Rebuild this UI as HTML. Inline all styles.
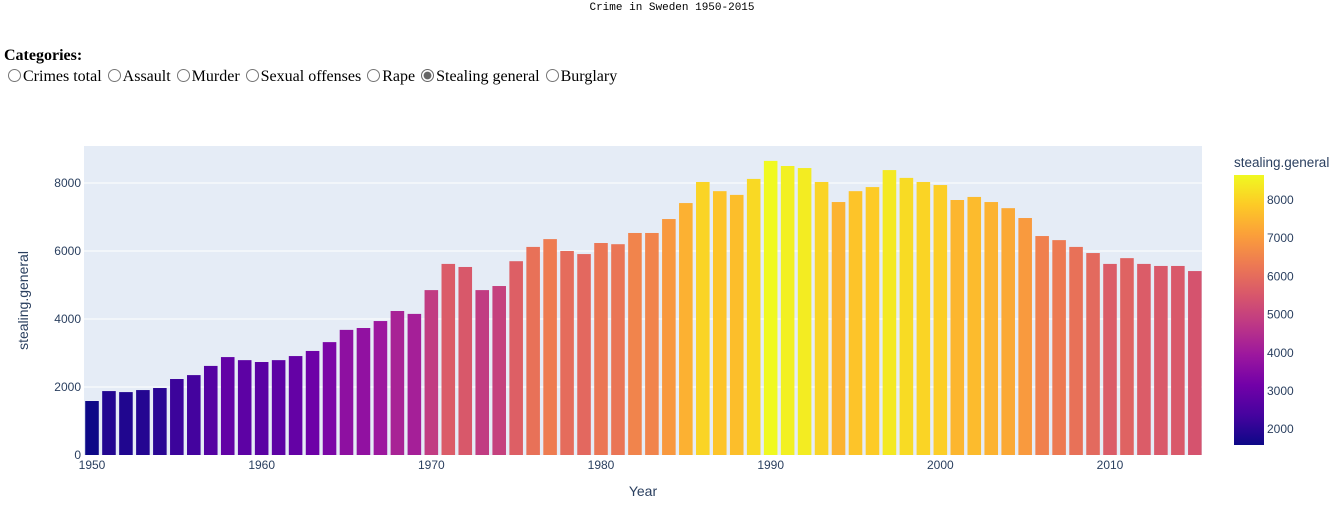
<!DOCTYPE html>
<html><head><meta charset="utf-8"><style>
body{margin:0;width:1344px;height:510px;background:#fff;overflow:hidden;position:relative;font-family:"Liberation Serif",serif}
#title{position:absolute;top:2px;left:0;width:1344px;text-align:center;font-family:"Liberation Mono",monospace;font-size:11px;color:#000}
#cats{position:absolute;left:4px;top:47px;font-size:16px;color:#000}
#cats b{display:block;font-size:16px;margin-bottom:3px}
#cats input{margin:0 2px 0 4px;width:13px;height:13px;vertical-align:-1px;accent-color:#666}
#cats label{margin-right:2px}
svg{position:absolute;left:0;top:0}
svg text{font-family:"Liberation Sans",sans-serif}
</style></head><body>
<div id="title">Crime in Sweden 1950-2015</div>
<div id="cats"><b>Categories:</b><label><input type="radio" name="c">Crimes total</label><label><input type="radio" name="c">Assault</label><label><input type="radio" name="c">Murder</label><label><input type="radio" name="c">Sexual offenses</label><label><input type="radio" name="c">Rape</label><label><input type="radio" name="c" checked>Stealing general</label><label><input type="radio" name="c">Burglary</label></div>
<svg id="chart" width="1344" height="510"></svg>
<script>
const years=[];for(let y=1950;y<=2015;y++)years.push(y);
const values=[1588,1880,1850,1910,1970,2235,2350,2620,2880,2790,2735,2790,2910,3060,3320,3680,3735,3940,4235,4150,4850,5620,5530,4850,4970,5700,6120,6350,6000,5910,6235,6200,6530,6530,6940,7410,8030,7760,7650,8120,8650,8500,8440,8030,7440,7760,7880,8380,8150,8030,7940,7500,7590,7440,7260,6970,6440,6320,6120,5940,5620,5790,5620,5560,5560,5410];
const yTicks=[0,2000,4000,6000,8000];
const xTicks=[1950,1960,1970,1980,1990,2000,2010];
const cbTicks=[2000,3000,4000,5000,6000,7000,8000];
const plasma=["#0d0887","#46039f","#7201a8","#9c179e","#bd3786","#d8576b","#ed7953","#fb9f3a","#fdca26","#f0f921"];
const NS="http://www.w3.org/2000/svg",svg=document.getElementById('chart');
function el(t,a,p){const e=document.createElementNS(NS,t);for(const k in a)e.setAttribute(k,a[k]);(p||svg).appendChild(e);return e;}
const PL=84,PR=1202,PT=146,PB=455;
const x=v=>92+(v-1950)*(1110-92)/60;
const y=v=>PB-v*(PB-183)/8000;
const vmin=Math.min(...values),vmax=Math.max(...values);
function hex(h){return[1,3,5].map(i=>parseInt(h.substr(i,2),16));}
function color(v){let t=(v-vmin)/(vmax-vmin)*(plasma.length-1);let i=Math.min(Math.floor(t),plasma.length-2),f=t-i;const a=hex(plasma[i]),b=hex(plasma[i+1]);return 'rgb('+a.map((c,k)=>Math.round(c+(b[k]-c)*f)).join(',')+')';}
const bg=el('rect',{x:PL,y:PT,width:PR-PL,height:PB-PT,fill:'#e5ecf6'});


yTicks.forEach(t=>{
 if(t>0){const g=el('line',{x1:PL,x2:PR,y1:y(t),y2:y(t),stroke:'#fff','stroke-width':1});
 
 }
 const tx=el('text',{x:PL-3,y:y(t)+4,'text-anchor':'end','font-size':12,fill:'#2a3f5f'});tx.textContent=t;
 
 
});
const bw=(x(1951)-x(1950))*0.8;
years.forEach((yr,i)=>{
 const r=el('rect',{x:x(yr)-bw/2,y:y(values[i]),width:bw,height:PB-y(values[i]),fill:color(values[i])});
 
 
});
xTicks.forEach(t=>{
 const tx=el('text',{x:x(t),y:PB+14,'text-anchor':'middle','font-size':12,fill:'#2a3f5f'});tx.textContent=t;
 
 
});
const xt=el('text',{x:(PL+PR)/2,y:496,'text-anchor':'middle','font-size':14,fill:'#2a3f5f'});xt.textContent='Year';


const yt=el('text',{x:28,y:(PT+PB)/2,'text-anchor':'middle','font-size':14,fill:'#2a3f5f',transform:'rotate(-90 28 '+((PT+PB)/2)+')'});yt.textContent='stealing.general';


const CT=175,CB=445;
const cy=v=>CB-(v-vmin)/(vmax-vmin)*(CB-CT);
const defs=el('defs',{});const lg=el('linearGradient',{id:'pg',x1:0,y1:1,x2:0,y2:0},defs);
plasma.forEach((c,i)=>el('stop',{offset:i/(plasma.length-1),'stop-color':c},lg));
const cb=el('rect',{x:1234,y:CT,width:30,height:CB-CT,fill:'url(#pg)'});


cbTicks.forEach(t=>{const tx=el('text',{x:1267,y:cy(t)+4,'font-size':12,fill:'#2a3f5f'});tx.textContent=t;
 
 });
const ct=el('text',{x:1234,y:167,'font-size':13.5,fill:'#2a3f5f'});ct.textContent='stealing.general';


</script>
</body></html>
